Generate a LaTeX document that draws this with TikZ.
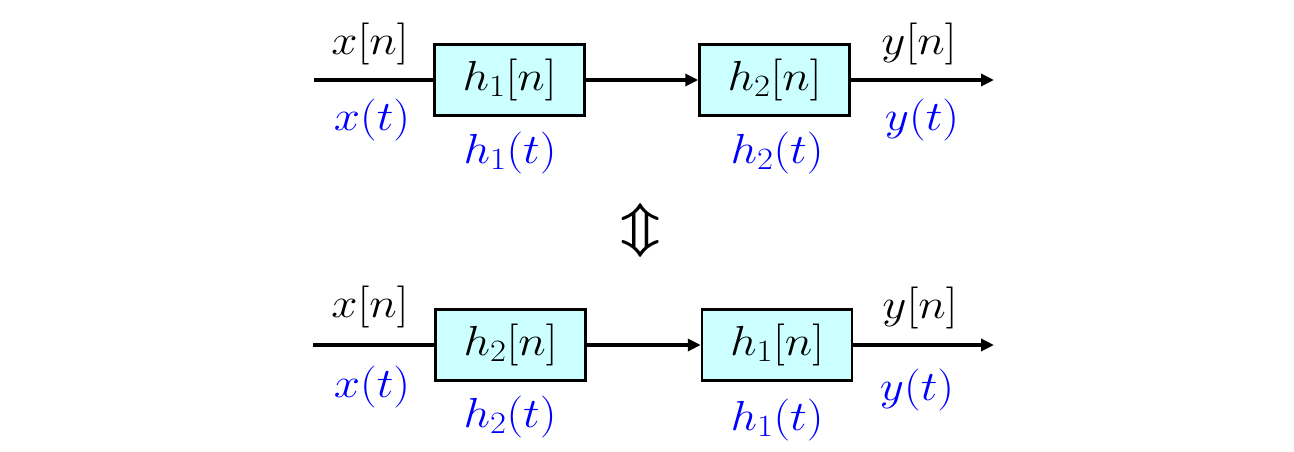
\RequirePackage{fix-cm}
\documentclass[tikz,border=0pt]{standalone}
\usetikzlibrary{arrows.meta}
\DeclareMathSizes{42}{42}{31}{22}
\DeclareMathSizes{52}{52}{36}{26}
\definecolor{boxfill}{RGB}{204,255,255}
\definecolor{sigblue}{RGB}{0,0,255}
\begin{document}
\begin{tikzpicture}[x=1pt,y=-1pt,
  sysbox/.style={draw=black,line width=2.5pt,fill=boxfill,minimum width=150pt,minimum height=71pt,inner sep=0pt,font=\fontsize{42}{48}\selectfont},
  lbl/.style={inner sep=0pt,font=\fontsize{42}{48}\selectfont},
  blbl/.style={lbl,text=sigblue},
  sig/.style={line width=3.5pt},
  sigarr/.style={line width=3.5pt,-{Triangle[length=13pt,width=12pt]}}]
\useasboundingbox (0,0) rectangle (1294,452);
% top row
\coordinate (in1) at (314,80);
\coordinate (out1) at (994,80);
\node[sysbox] (b1) at (509.5,80) {\scalebox{1.12}[1]{$h_1[n]$}};
\node[sysbox] (b2) at (774.5,80) {\scalebox{1.12}[1]{$h_2[n]$}};
\draw[sig] (in1) -- (b1.west);
\draw[sigarr] (b1.east) -- (b2.west);
\draw[sigarr] (b2.east) -- (out1);
\node[lbl] (xn1) at (370,44) {\scalebox{1.12}[1]{$x[n]$}};
\node[blbl] (xt1) at (372,120) {\scalebox{1.12}[1]{$x(t)$}};
\node[blbl] (ht1) at (510,153) {\scalebox{1.12}[1]{$h_1(t)$}};
\node[blbl] (ht2) at (777,153) {\scalebox{1.12}[1]{$h_2(t)$}};
\node[lbl] (yn1) at (919,44) {\scalebox{1.12}[1]{$y[n]$}};
\node[blbl] (yt1) at (922,120) {\scalebox{1.12}[1]{$y(t)$}};
% equivalence
\node[inner sep=0pt,font=\fontsize{52}{56}\selectfont] (eq) at (641,230) {\scalebox{1.1}[1]{\boldmath$\Updownarrow$}};
% bottom row
\coordinate (in2) at (313,345);
\coordinate (out2) at (994,345);
\node[sysbox] (b3) at (510.5,345) {\scalebox{1.12}[1]{$h_2[n]$}};
\node[sysbox] (b4) at (777,345) {\scalebox{1.12}[1]{$h_1[n]$}};
\draw[sig] (in2) -- (b3.west);
\draw[sigarr] (b3.east) -- (b4.west);
\draw[sigarr] (b4.east) -- (out2);
\node[lbl] (xn2) at (370,307) {\scalebox{1.12}[1]{$x[n]$}};
\node[blbl] (xt2) at (372,387) {\scalebox{1.12}[1]{$x(t)$}};
\node[blbl] (ht3) at (510,417) {\scalebox{1.12}[1]{$h_2(t)$}};
\node[blbl] (ht4) at (777,420) {\scalebox{1.12}[1]{$h_1(t)$}};
\node[lbl] (yn2) at (920,308) {\scalebox{1.12}[1]{$y[n]$}};
\node[blbl] (yt2) at (917,390) {\scalebox{1.12}[1]{$y(t)$}};
\end{tikzpicture}
\end{document}
